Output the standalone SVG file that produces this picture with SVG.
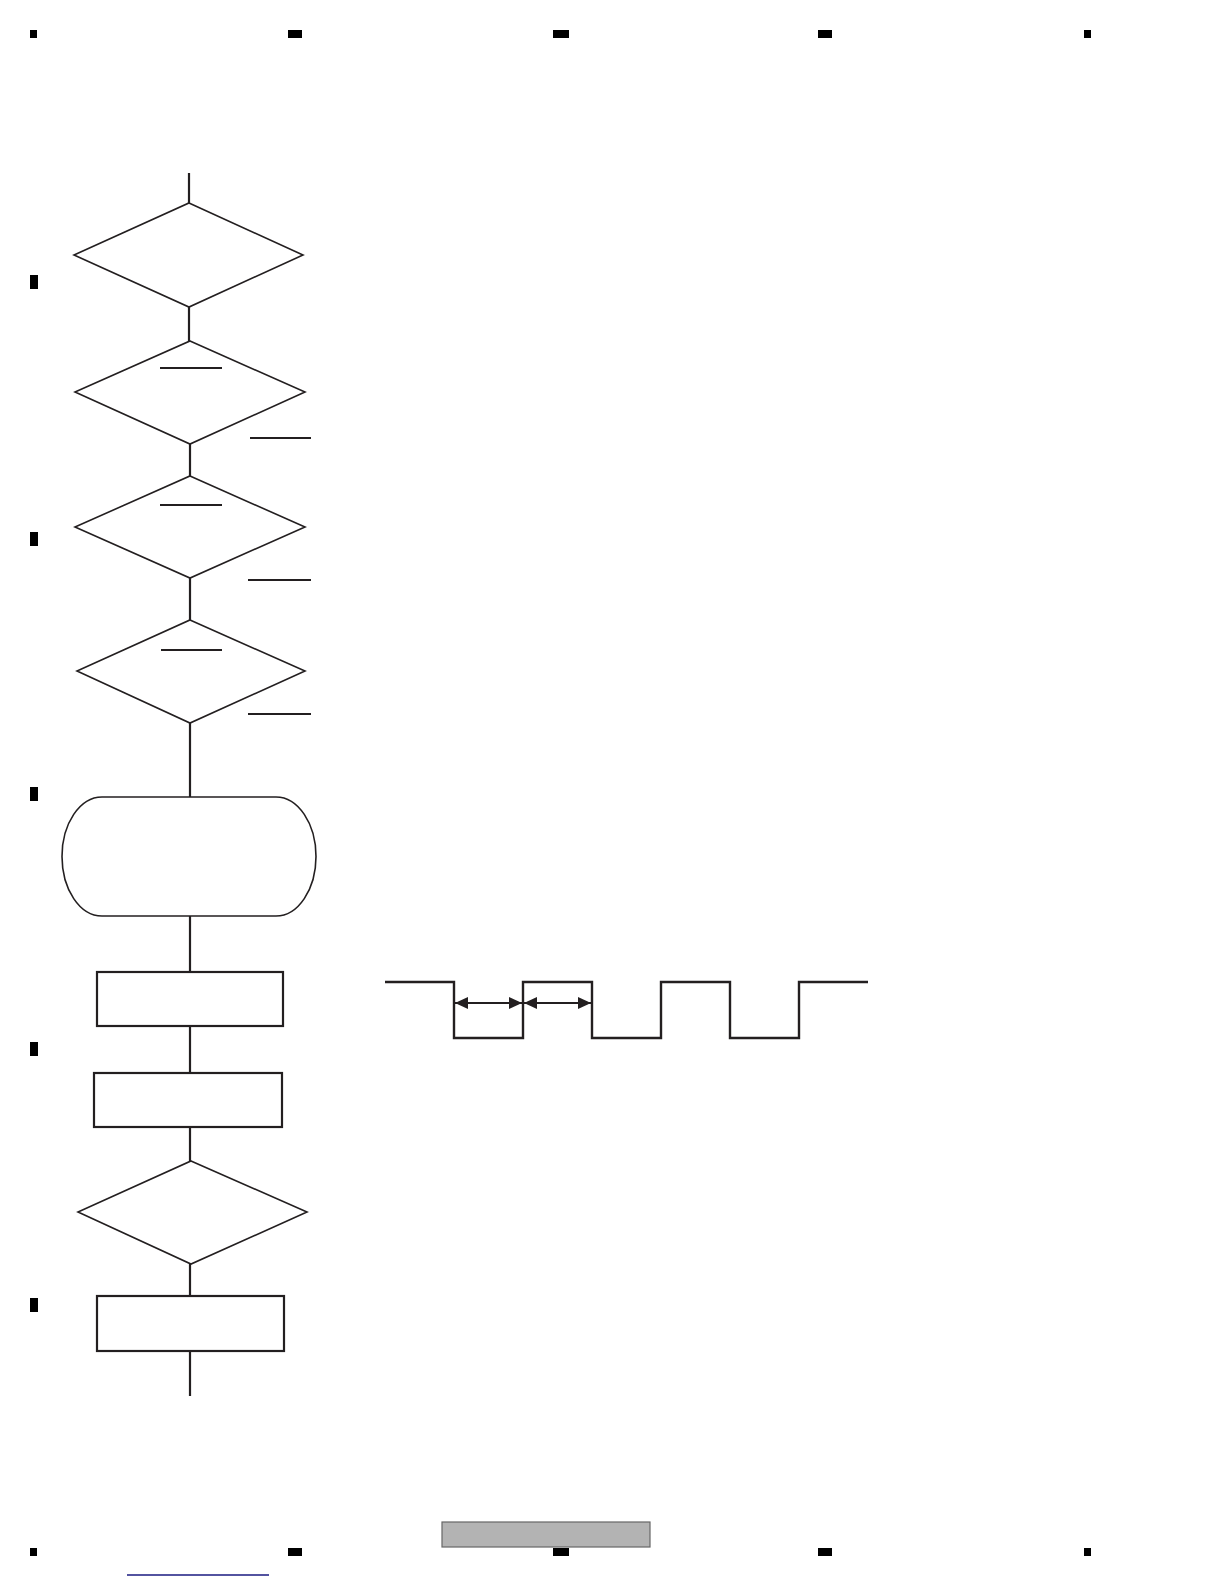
<svg xmlns="http://www.w3.org/2000/svg" width="1224" height="1584" viewBox="0 0 1224 1584">
<style>
.shape{fill:#fff;stroke:#231f20;stroke-width:1.6}
.box{fill:#fff;stroke:#231f20;stroke-width:2.2}
.conn{fill:none;stroke:#231f20;stroke-width:2.2}
.bar{stroke:#231f20;stroke-width:1.8}
.wave{fill:none;stroke:#231f20;stroke-width:2.4}
.mk{fill:#000}
</style>
<defs>
<marker id="ah" viewBox="0 0 13 12" refX="13" refY="6" markerWidth="13" markerHeight="12" markerUnits="userSpaceOnUse" orient="auto-start-reverse">
<path d="M0,0 L13,6 L0,12 Z" fill="#231f20"/>
</marker>
</defs>
<rect width="1224" height="1584" fill="#fff"/>
<g id="frame-marks">
<rect class="mk" x="30" y="30" width="7" height="8"/>
<rect class="mk" x="288" y="30" width="14" height="8"/>
<rect class="mk" x="553" y="30" width="16" height="8"/>
<rect class="mk" x="818" y="30" width="14" height="8"/>
<rect class="mk" x="1084" y="30" width="7" height="8"/>
<rect class="mk" x="30" y="275" width="8" height="14"/>
<rect class="mk" x="30" y="532" width="8" height="14"/>
<rect class="mk" x="30" y="787" width="8" height="14"/>
<rect class="mk" x="30" y="1042" width="8" height="14"/>
<rect class="mk" x="30" y="1298" width="8" height="14"/>
<rect class="mk" x="30" y="1548" width="7" height="8"/>
<rect class="mk" x="288" y="1548" width="14" height="8"/>
<rect class="mk" x="553" y="1548" width="16" height="8"/>
<rect class="mk" x="818" y="1548" width="14" height="8"/>
<rect class="mk" x="1084" y="1548" width="7" height="8"/>
<rect x="442" y="1522" width="208" height="25" fill="#b3b3b3" stroke="#666" stroke-width="1.2"/>
<line x1="127" y1="1575" x2="269" y2="1575" stroke="#1a1a80" stroke-width="1.5"/>
</g>
<g id="connectors">
<line class="conn" x1="189" y1="173" x2="189" y2="203"/>
<line class="conn" x1="189" y1="307" x2="189" y2="341"/>
<line class="conn" x1="190" y1="444" x2="190" y2="476"/>
<line class="conn" x1="190" y1="578" x2="190" y2="620"/>
<line class="conn" x1="190" y1="723" x2="190" y2="797"/>
<line class="conn" x1="190" y1="916" x2="190" y2="972"/>
<line class="conn" x1="190" y1="1026" x2="190" y2="1073"/>
<line class="conn" x1="190" y1="1127" x2="190" y2="1161"/>
<line class="conn" x1="190" y1="1264" x2="190" y2="1296"/>
<line class="conn" x1="190" y1="1351" x2="190" y2="1396"/>
</g>
<g id="d1"><polygon class="shape" points="189,203 303,255 189,307 74,255"/></g>
<g id="d2"><polygon class="shape" points="190,341 305,392 190,444 75,392"/>
<line class="bar" x1="160" y1="368" x2="222" y2="368"/>
<line class="bar" x1="250" y1="438" x2="311" y2="438"/></g>
<g id="d3"><polygon class="shape" points="190,476 305,527 190,578 75,527"/>
<line class="bar" x1="160" y1="505" x2="222" y2="505"/>
<line class="bar" x1="248" y1="580" x2="311" y2="580"/></g>
<g id="d4"><polygon class="shape" points="190,620 305,671 190,723 77,671"/>
<line class="bar" x1="161" y1="650" x2="222" y2="650"/>
<line class="bar" x1="248" y1="714" x2="311" y2="714"/></g>
<g id="term"><rect class="shape" x="62" y="797" width="254" height="119" rx="40" ry="59.5"/></g>
<g id="r1"><rect class="box" x="97" y="972" width="186" height="54"/></g>
<g id="r2"><rect class="box" x="94" y="1073" width="188" height="54"/></g>
<g id="d5"><polygon class="shape" points="191,1161 307,1212 191,1264 78,1212"/></g>
<g id="r3"><rect class="box" x="97" y="1296" width="187" height="55"/></g>
<g id="waveform">
<polyline class="wave" points="385,982 454,982 454,1038 523,1038 523,982 592,982 592,1038 661,1038 661,982 730,982 730,1038 799,1038 799,982 868,982"/>
<line class="bar" x1="455" y1="1003" x2="522" y2="1003" marker-start="url(#ah)" marker-end="url(#ah)"/>
<line class="bar" x1="524" y1="1003" x2="591" y2="1003" marker-start="url(#ah)" marker-end="url(#ah)"/>
</g>
</svg>
